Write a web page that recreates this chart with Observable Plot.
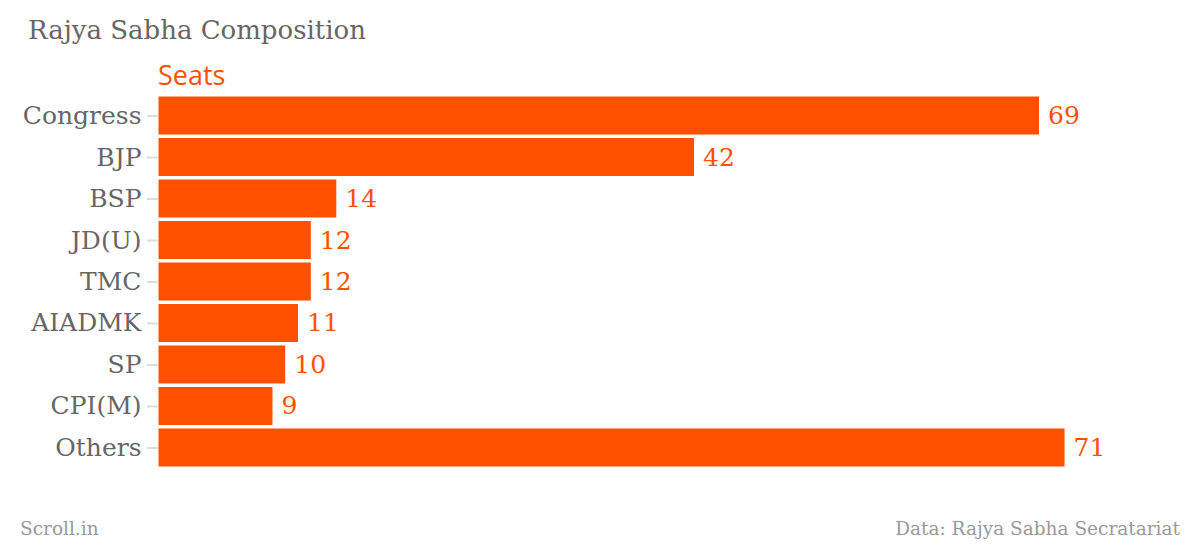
<!DOCTYPE html>
<html>
<head>
<meta charset="utf-8">
<script src="https://cdn.jsdelivr.net/npm/d3@7"></script>
<script src="https://cdn.jsdelivr.net/npm/@observablehq/plot@0.6"></script>
<style>
  body { margin: 0; background: #fff; }
  #wrap { position: relative; width: 1200px; height: 548px; overflow: hidden; }
  .t { position: absolute; white-space: nowrap; font-family: "DejaVu Serif", serif; }
  #title { left: 28px; top: 15px; font-size: 26px; color: #666; }
  #seats { left: 158px; top: 56px; font-size: 27px; color: #ff5000; font-family: "Open Sans", "Noto Sans", sans-serif; }
  #src { left: 20px; top: 518px; font-size: 18.5px; color: #999; }
  #data { right: 20px; top: 518px; font-size: 18.5px; color: #999; }
  #chart { position: absolute; left: 0; top: 0; }
</style>
</head>
<body>
<div id="wrap">
  <div class="t" id="title">Rajya Sabha Composition</div>
  <div class="t" id="seats">Seats</div>
  <div id="chart"></div>
  <div class="t" id="src">Scroll.in</div>
  <div class="t" id="data">Data: Rajya Sabha Secratariat</div>
</div>
<script>
const parties = ["Congress", "BJP", "BSP", "JD(U)", "TMC", "AIADMK", "SP", "CPI(M)", "Others"];
const seats = [69, 42, 14, 12, 12, 11, 10, 9, 71];

const data = parties.map((p, i) => ({party: p, seats: seats[i]}));

const chart = Plot.plot({
  width: 1200,
  height: 548,
  marginLeft: 158,
  marginRight: 20,
  marginTop: 96,
  marginBottom: 81,
  style: {fontFamily: "DejaVu Serif, serif", background: "transparent"},
  x: {domain: [0, 80], axis: null},
  y: {domain: parties, paddingInner: 0.06, paddingOuter: 0, round: false, label: null},
  marks: [
    Plot.barX(data, {x: "seats", y: "party", fill: "#ff5000", stroke: "#fff", strokeWidth: 1}),
    Plot.text(data, {x: "seats", y: "party", text: d => String(d.seats), textAnchor: "start", dx: 8, fill: "#ff5000", fontSize: 25}),
    Plot.axisY({tickSize: 11, tickPadding: 6, stroke: "#ddd", strokeWidth: 2, fill: "#666", fontSize: 25, label: null})
  ]
});
document.getElementById("chart").appendChild(chart);
</script>
</body>
</html>
